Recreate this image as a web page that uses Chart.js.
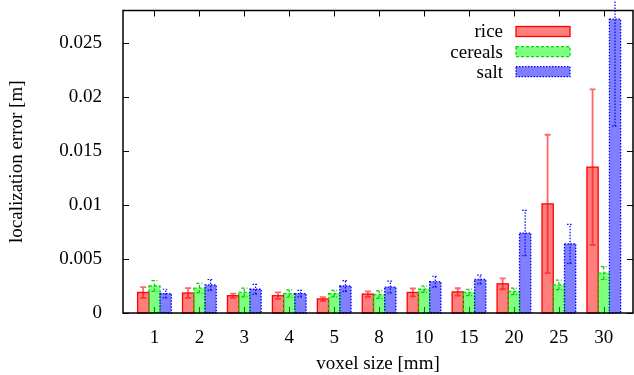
<!DOCTYPE html>
<html><head><meta charset="utf-8">
<script src="https://cdn.jsdelivr.net/npm/chart.js@4/dist/chart.umd.min.js"></script>
<style>html,body{margin:0;padding:0;background:#fff}#wrap{width:634px;height:375px;position:relative}</style>
</head><body><div id="wrap"><canvas id="c" width="634" height="375"></canvas></div>
<script>
const categories = ['1','2','3','4','5','8','10','15','20','25','30'];
const seriesNames = ['rice','cereals','salt'];
const riceValues = [0.0019, 0.00185, 0.0016, 0.0016, 0.0013, 0.00175, 0.0019, 0.00195, 0.0027, 0.0101, 0.0135];
const riceErrors = [0.0005, 0.00045, 0.0002, 0.0003, 0.00017, 0.00025, 0.00037, 0.00034, 0.0005, 0.0064, 0.0072];
const cerealsValues = [0.0025, 0.0023, 0.0019, 0.0018, 0.0018, 0.0017, 0.0022, 0.0019, 0.0020, 0.0026, 0.0037];
const cerealsErrors = [0.0005, 0.00044, 0.0004, 0.00034, 0.0003, 0.00035, 0.0003, 0.0003, 0.0003, 0.00044, 0.0006];
const saltValues = [0.0018, 0.0026, 0.0022, 0.0018, 0.0025, 0.0024, 0.0029, 0.0031, 0.0074, 0.0064, 0.0272];
const saltErrors = [0.0004, 0.0005, 0.00045, 0.0003, 0.0005, 0.00055, 0.0005, 0.0004, 0.0021, 0.0018, 0.0099];
const yTickValues = [0, 0.005, 0.01, 0.015, 0.02, 0.025];
const yTickLabels = ['0', '0.005', '0.01', '0.015', '0.02', '0.025'];

const FONT = "'Liberation Serif', 'Times New Roman', serif";
const styles = [
  {fill: 'rgba(255,0,0,0.5)', line: '#ff0000', err: 'rgba(255,0,0,0.6)', dash: []},
  {fill: 'rgba(0,255,0,0.5)', line: '#00dd00', err: '#00cc00', dash: [3, 2]},
  {fill: 'rgba(0,0,255,0.5)', line: '#0000ff', err: '#0000ff', dash: [1.5, 1.5]}
];
const allValues = [riceValues, cerealsValues, saltValues];
const allErrors = [riceErrors, cerealsErrors, saltErrors];

const datasets = seriesNames.map((name, s) => ({
  label: name,
  data: allValues[s].map((v, i) => ({x: i, y: v})),
  backgroundColor: styles[s].fill,
  borderWidth: 0,
  categoryPercentage: 0.75,
  barPercentage: 1.0
}));

const framePlugin = {
  id: 'frame',
  beforeDatasetsDraw(chart) {
    const {ctx, chartArea: a, scales: {x, y}} = chart;
    ctx.save();
    ctx.strokeStyle = '#000';
    ctx.lineWidth = 1;
    ctx.beginPath();
    yTickValues.forEach(v => {
      const py = Math.round(y.getPixelForValue(v)) + 0.5;
      ctx.moveTo(a.left, py); ctx.lineTo(a.left + 6, py);
      ctx.moveTo(a.right, py); ctx.lineTo(a.right - 6, py);
    });
    categories.forEach((c, i) => {
      const px = Math.round(x.getPixelForValue(i)) + 0.5;
      ctx.moveTo(px, a.top); ctx.lineTo(px, a.top + 6);
      ctx.moveTo(px, a.bottom); ctx.lineTo(px, a.bottom - 6);
    });
    ctx.stroke();
    ctx.restore();
  },
  afterDatasetsDraw(chart) {
    const {ctx, chartArea: a, scales: {y}} = chart;
    ctx.save();
    chart.data.datasets.forEach((ds, s) => {
      const meta = chart.getDatasetMeta(s);
      ctx.strokeStyle = styles[s].line;
      ctx.lineWidth = 1.3;
      ctx.setLineDash(styles[s].dash);
      meta.data.forEach(el => {
        const {x, y: ty, base, width} = el.getProps(['x', 'y', 'base', 'width'], true);
        ctx.strokeRect(x - width / 2, ty, width, base - ty);
      });
    });
    chart.data.datasets.forEach((ds, s) => {
      const meta = chart.getDatasetMeta(s);
      ctx.strokeStyle = styles[s].err;
      ctx.lineWidth = s === 0 ? 1.8 : 1.2;
      ctx.setLineDash(styles[s].dash);
      meta.data.forEach((el, i) => {
        const v = allValues[s][i], e = allErrors[s][i];
        const px = el.x;
        const hi = y.getPixelForValue(v + e), lo = y.getPixelForValue(v - e);
        ctx.beginPath();
        ctx.moveTo(px, lo); ctx.lineTo(px, hi);
        ctx.moveTo(px - 3, hi); ctx.lineTo(px + 3, hi);
        ctx.moveTo(px - 3, lo); ctx.lineTo(px + 3, lo);
        ctx.stroke();
      });
    });
    ctx.setLineDash([]);
    ctx.strokeStyle = '#000';
    ctx.lineWidth = 1.5;
    ctx.strokeRect(a.left, a.top, a.right - a.left, a.bottom - a.top);
    const rows = [31.5, 51.7, 71.7];
    ctx.font = '19px ' + FONT;
    ctx.textAlign = 'right';
    ctx.textBaseline = 'middle';
    seriesNames.forEach((name, s) => {
      ctx.fillStyle = '#000';
      ctx.fillText(name, 503, rows[s] + 1);
      ctx.fillStyle = styles[s].fill;
      ctx.fillRect(516, rows[s] - 5, 54, 10);
      ctx.strokeStyle = styles[s].line;
      ctx.lineWidth = 1.3;
      ctx.setLineDash(styles[s].dash);
      ctx.strokeRect(516, rows[s] - 5, 54, 10);
    });
    ctx.restore();
  }
};

new Chart(document.getElementById('c'), {
  type: 'bar',
  data: {datasets},
  plugins: [framePlugin],
  options: {
    responsive: false,
    animation: false,
    devicePixelRatio: 1,
    layout: {padding: {top: 10.5, right: 1, left: 0, bottom: 0}},
    plugins: {legend: {display: false}, tooltip: {enabled: false}},
    scales: {
      x: {
        type: 'linear',
        min: -0.7,
        max: 10.65,
        offset: false,
        grid: {display: false},
        border: {display: false},
        afterBuildTicks: sc => { sc.ticks = categories.map((c, i) => ({value: i})); },
        afterFit: sc => { sc.height = 62; sc.paddingLeft = 0; sc.paddingRight = 0; },
        ticks: {
          color: '#000',
          font: {family: FONT, size: 19},
          padding: 6,
          maxRotation: 0,
          autoSkip: false,
          callback: v => categories[v]
        },
        title: {display: true, text: 'voxel size [mm]', color: '#000', font: {family: FONT, size: 19}, padding: {top: 0, bottom: 0}}
      },
      y: {
        min: 0,
        max: 0.028,
        grid: {display: false},
        border: {display: false},
        afterBuildTicks: sc => { sc.ticks = yTickValues.map(v => ({value: v})); },
        afterFit: sc => { sc.width = 123; sc.paddingTop = 0; sc.paddingBottom = 0; },
        ticks: {
          color: '#000',
          font: {family: FONT, size: 19},
          padding: 13,
          autoSkip: false,
          callback: v => yTickLabels[yTickValues.indexOf(v)]
        },
        title: {display: true, text: 'localization error [m]', color: '#000', font: {family: FONT, size: 19}, padding: {top: 6, bottom: 0}}
      }
    }
  }
});
</script>
</body></html>
